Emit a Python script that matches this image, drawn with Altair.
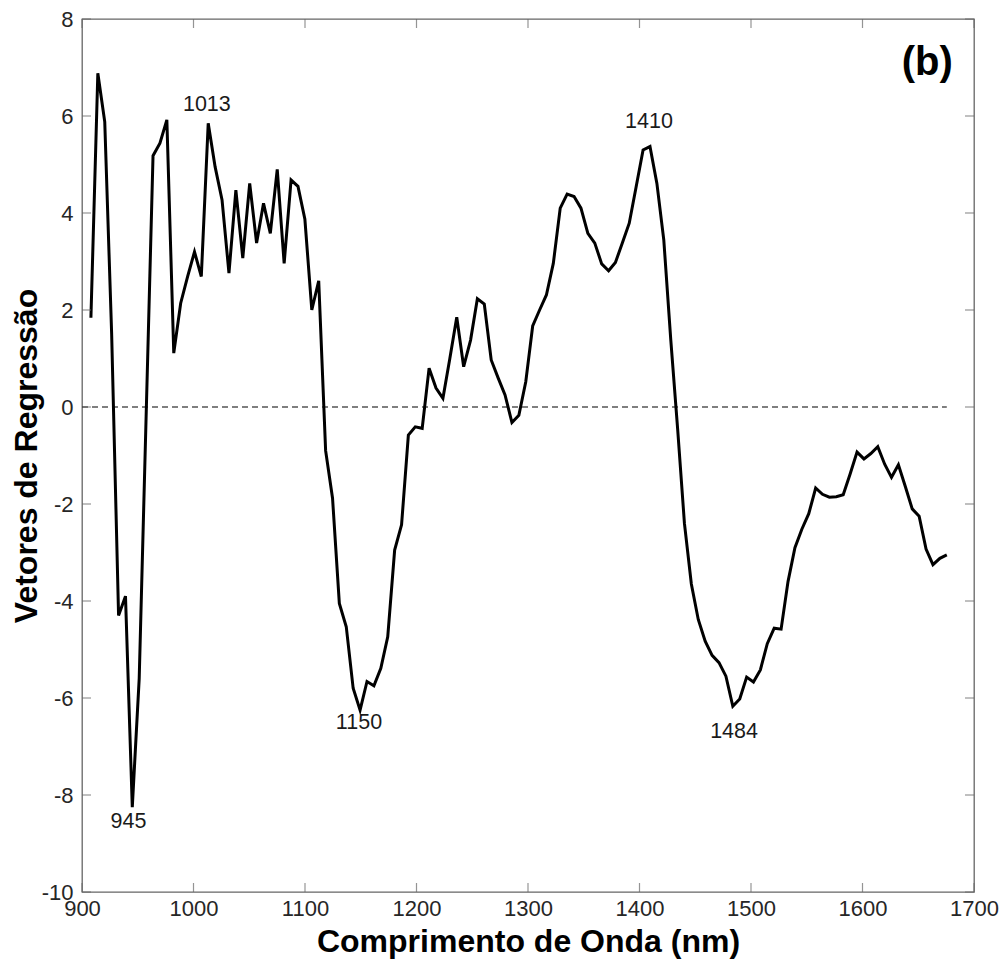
import altair as alt
import pandas as pd

# wavelengths (nm) of the regression vector
wavelengths = [
    908.0, 914.2, 920.4, 926.6, 932.8, 939.0, 945.1, 951.3, 957.5, 963.7,
    969.9, 976.1, 982.3, 988.5, 994.7, 1000.9, 1007.0, 1013.2, 1019.4, 1025.6,
    1031.8, 1038.0, 1044.2, 1050.4, 1056.6, 1062.8, 1068.9, 1075.1, 1081.3, 1087.5,
    1093.7, 1099.9, 1106.1, 1112.3, 1118.5, 1124.7, 1130.8, 1137.0, 1143.2, 1149.4,
    1155.6, 1161.8, 1168.0, 1174.2, 1180.4, 1186.6, 1192.7, 1198.9, 1205.1, 1211.3,
    1217.5, 1223.7, 1229.9, 1236.1, 1242.3, 1248.5, 1254.6, 1260.8, 1267.0, 1273.2,
    1279.4, 1285.6, 1291.8, 1298.0, 1304.2, 1310.4, 1316.5, 1322.7, 1328.9, 1335.1,
    1341.3, 1347.5, 1353.7, 1359.9, 1366.1, 1372.3, 1378.4, 1384.6, 1390.8, 1397.0,
    1403.2, 1409.4, 1415.6, 1421.8, 1428.0, 1434.2, 1440.3, 1446.5, 1452.7, 1458.9,
    1465.1, 1471.3, 1477.5, 1483.7, 1489.9, 1496.1, 1502.2, 1508.4, 1514.6, 1520.8,
    1527.0, 1533.2, 1539.4, 1545.6, 1551.8, 1558.0, 1564.1, 1570.3, 1576.5, 1582.7,
    1588.9, 1595.1, 1601.3, 1607.5, 1613.7, 1619.9, 1626.0, 1632.2, 1638.4, 1644.6,
    1650.8, 1657.0, 1663.2, 1669.4, 1675.6,
]

# regression vector values
coefficients = [
    1.84, 6.88, 5.88, 1.5, -4.3, -3.9, -8.25, -5.6, -0.2, 5.18,
    5.44, 5.92, 1.11, 2.14, 2.69, 3.20, 2.69, 5.85, 4.95, 4.27,
    2.76, 4.47, 3.07, 4.61, 3.38, 4.20, 3.58, 4.9, 2.96, 4.68,
    4.55, 3.87, 2.0, 2.6, -0.9, -1.88, -4.05, -4.53, -5.80, -6.25,
    -5.66, -5.75, -5.39, -4.74, -2.95, -2.43, -0.58, -0.41, -0.44, 0.80,
    0.39, 0.18, 1.0, 1.85, 0.83, 1.38, 2.23, 2.12, 0.97, 0.6,
    0.25, -0.32, -0.17, 0.52, 1.67, 2.0, 2.31, 2.96, 4.10, 4.39,
    4.34, 4.10, 3.58, 3.38, 2.95, 2.81, 2.98, 3.38, 3.79, 4.54,
    5.30, 5.37, 4.61, 3.44, 1.4, -0.45, -2.4, -3.65, -4.38, -4.83,
    -5.12, -5.27, -5.55, -6.17, -6.02, -5.57, -5.67, -5.42, -4.88, -4.56,
    -4.58, -3.6, -2.9, -2.52, -2.2, -1.67, -1.8, -1.86, -1.85, -1.81,
    -1.38, -0.93, -1.07, -0.96, -0.82, -1.18, -1.45, -1.19, -1.64, -2.1,
    -2.25, -2.93, -3.25, -3.12, -3.05,
]

# peak annotations (text, data-coordinate anchor)
peak_labels = ["945", "1013", "1150", "1410", "1484"]
peak_label_x = [941.7, 1012.0, 1148.4, 1408.5, 1484.8]
peak_label_y = [-8.55, 6.23, -6.52, 5.88, -6.71]

x_ticks = [900, 1000, 1100, 1200, 1300, 1400, 1500, 1600, 1700]
y_ticks = [-10, -8, -6, -4, -2, 0, 2, 4, 6, 8]

W, H = 892, 873
FONT = "Liberation Sans"

df = pd.DataFrame({"wl": wavelengths, "coef": coefficients})
lab = pd.DataFrame({"wl": peak_label_x, "coef": peak_label_y, "txt": peak_labels})
xt = pd.DataFrame({"wl": x_ticks})
yt = pd.DataFrame({"coef": y_ticks})
zero_df = pd.DataFrame({"wl": [900], "wl2": [wavelengths[-1]], "coef": [0]})
panel_df = pd.DataFrame({"wl": [1681], "coef": [7.09], "t": ["(b)"]})

xscale = alt.Scale(domain=[900, 1700], nice=False, zero=False)
yscale = alt.Scale(domain=[-10, 8], nice=False, zero=False)

x_axis = alt.Axis(values=x_ticks, labelExpr="datum.value + ''", ticks=False, domain=False,
                  grid=False, labelPadding=6, labelFontSize=22, labelFlush=False,
                  labelColor="#262626", labelFont=FONT,
                  titleFont=FONT, titleFontSize=32, titleFontWeight="bold",
                  titleColor="black", titleBaseline="alphabetic",
                  titleY=59, titleX=W / 2)
y_axis = alt.Axis(values=y_ticks, labelExpr="datum.value + ''", ticks=False, domain=False,
                  grid=False, labelPadding=9, labelFontSize=22, labelFlush=False,
                  labelColor="#262626", labelFont=FONT,
                  titleFont=FONT, titleFontSize=32, titleFontWeight="bold",
                  titleColor="black", titleBaseline="alphabetic",
                  titleX=-46, titleY=H / 2)

XT = "Comprimento de Onda (nm)"
YT = "Vetores de Regressão"


def X():
    return alt.X("wl:Q", scale=xscale, axis=x_axis, title=XT)


def Y():
    return alt.Y("coef:Q", scale=yscale, axis=y_axis, title=YT)


line = alt.Chart(df).mark_line(color="black", strokeWidth=3, strokeJoin="miter").encode(
    x=X(), y=Y())

zero = alt.Chart(zero_df).mark_rule(
    color="black", strokeWidth=1.2, strokeDash=[6, 4]
).encode(x=X(), x2="wl2:Q", y=Y())

labels = alt.Chart(lab).mark_text(
    font=FONT, fontSize=21.5, color="#1a1a1a", align="center", baseline="middle"
).encode(x=X(), y=Y(), text="txt:N")

panel = alt.Chart(panel_df).mark_text(
    font=FONT, fontSize=40, fontWeight="bold", color="black", align="right", baseline="middle"
).encode(x=X(), y=Y(), text="t:N")

tick_style = dict(color="#666666", thickness=1.2, size=9)
xt_bottom = alt.Chart(xt).mark_tick(orient="vertical", **tick_style).encode(
    x=X(), y=alt.value(H - 4.5))
xt_top = alt.Chart(xt).mark_tick(orient="vertical", **tick_style).encode(
    x=X(), y=alt.value(4.5))
yt_left = alt.Chart(yt).mark_tick(orient="horizontal", **tick_style).encode(
    y=Y(), x=alt.value(4.5))
yt_right = alt.Chart(yt).mark_tick(orient="horizontal", **tick_style).encode(
    y=Y(), x=alt.value(W - 4.5))

chart = alt.layer(
    line, zero, xt_bottom, xt_top, yt_left, yt_right, labels, panel
).properties(
    width=W, height=H,
    autosize=alt.AutoSizeParams(type="none"),
    padding={"left": 82, "top": 19, "right": 28, "bottom": 73},
    background="white",
).configure_view(
    stroke="#666666", strokeWidth=1.3
)

chart.save("out.html", embed_options={"renderer": "svg", "actions": False})
